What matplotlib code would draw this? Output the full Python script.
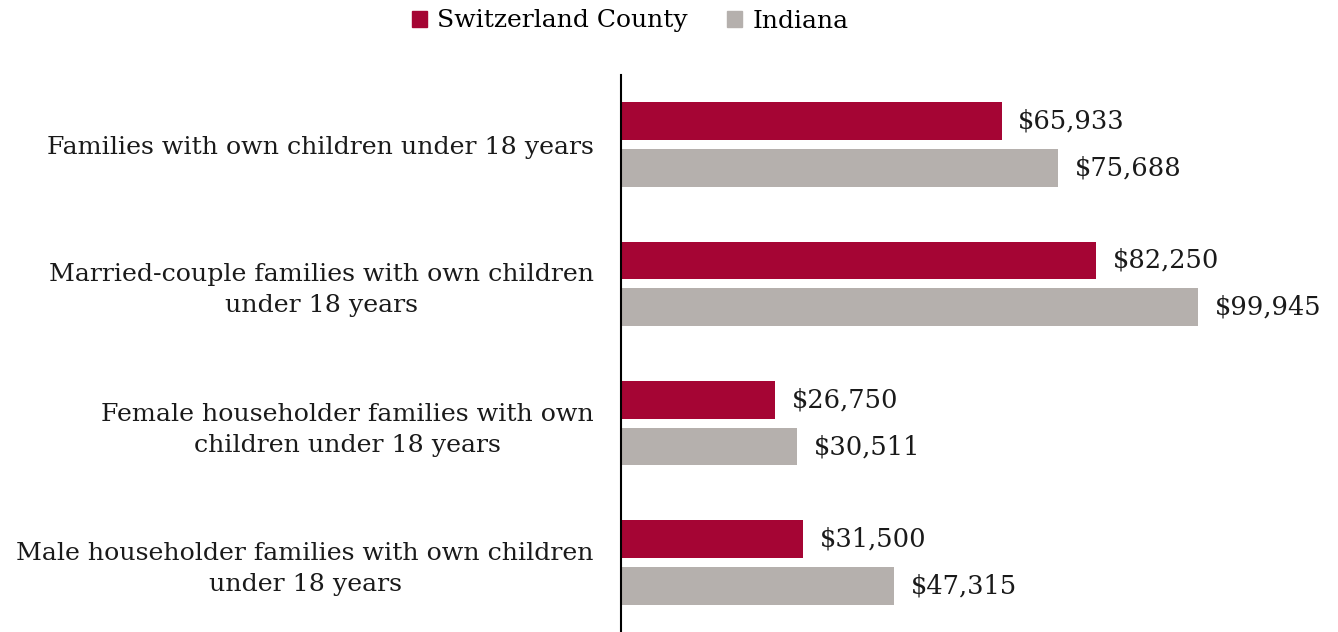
import matplotlib.pyplot as plt
import numpy as np
from matplotlib.patches import Patch

categories = [
    "Families with own children under 18 years",
    "Married-couple families with own children\nunder 18 years",
    "Female householder families with own\nchildren under 18 years",
    "Male householder families with own children\nunder 18 years",
]
county = [65933, 82250, 26750, 31500]
indiana = [75688, 99945, 30511, 47315]

red = "#A50534"
gray = "#B5B0AD"

plt.rcParams["font.family"] = ["DejaVu Serif"]

fig = plt.figure(figsize=(13.38, 6.32), dpi=100)
ax = fig.add_axes([621 / 1338, 0.0, 1 - 621 / 1338, (632 - 75) / 632])

y = np.arange(len(categories))
h = 0.272
off = 0.168
ax.barh(y - off, county, height=h, color=red)
ax.barh(y + off, indiana, height=h, color=gray)

for yi, v in zip(y, county):
    ax.text(v + 2900, yi - off, f"${v:,}", va="center", ha="left", fontsize=18.5, color="#1a1a1a")
for yi, v in zip(y, indiana):
    ax.text(v + 2900, yi + off, f"${v:,}", va="center", ha="left", fontsize=18.5, color="#1a1a1a")

ax.set_xlim(0, 124200)
ax.set_ylim(3.5, -0.5)
ax.set_yticks(y)
ax.set_yticklabels(categories, fontsize=18.2, multialignment="center", color="#1a1a1a",
                   linespacing=1.45)
ax.tick_params(axis="y", length=0, pad=19.5)
ax.set_xticks([])
for s in ["top", "right", "bottom"]:
    ax.spines[s].set_visible(False)
ax.spines["left"].set_linewidth(1.5)

handles = [Patch(color=red, label="Switzerland County"), Patch(color=gray, label="Indiana")]
fig.legend(handles=handles, loc="center", bbox_to_anchor=(630 / 1338, 1 - 21 / 632), ncol=2,
           frameon=False, fontsize=18, handlelength=0.6, handleheight=0.6, handletextpad=0.4,
           columnspacing=1.6)

fig.savefig("out.png", dpi=100)
